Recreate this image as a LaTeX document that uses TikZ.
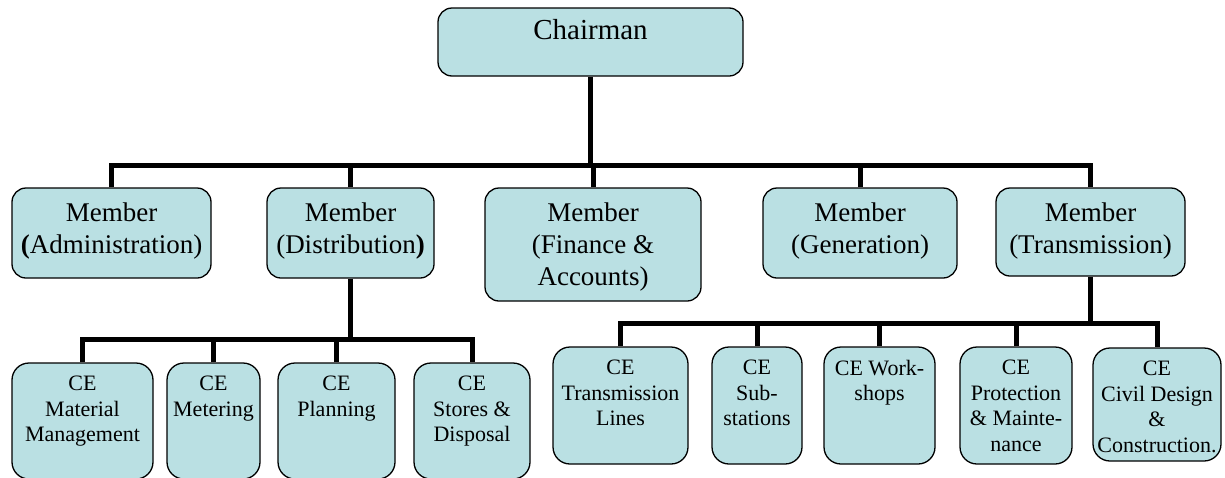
\documentclass[tikz,border=0pt]{standalone}
\usepackage{fontspec}
\setmainfont{Liberation Serif}
\definecolor{boxfill}{RGB}{186,224,227}

\begin{document}
\begin{tikzpicture}[x=1pt,y=-1pt,
    box/.style={draw=black, line width=1.3pt, fill=boxfill, rounded corners=14pt, inner sep=0pt},
    cebox/.style={box, rounded corners=17pt},
    boxtext/.style={anchor=north, inner sep=0pt, align=center},
    chtext/.style={boxtext, yshift=-11.5pt, font=\fontsize{29pt}{34pt}\selectfont},
    mtext/.style={boxtext, yshift=-15pt, font=\fontsize{27pt}{32pt}\selectfont},
    cetext/.style={boxtext, yshift=-13.5pt, font=\fontsize{22pt}{25.6pt}\selectfont},
    conn/.style={line width=5pt}
  ]
  \useasboundingbox (0,0) rectangle (1225,477);
  % Chairman
  \node[box, minimum width=305pt, minimum height=68pt, label={[chtext]north:Chairman}] (ch) at (590.5,42) {};
  %
  % Members
  \node[box, minimum width=199pt, minimum height=90pt, label={[mtext]north:{Member\\\textbf{(}Administration)}}] (adm) at (111.5,233) {};
  \node[box, minimum width=167pt, minimum height=90pt, label={[mtext]north:{Member\\(Distribution\textbf{)}}}] (dis) at (350.5,233) {};
  \node[box, minimum width=216pt, minimum height=113pt, label={[mtext]north:{Member\\(Finance \&\\Accounts)}}] (fin) at (593,244.5) {};
  \node[box, minimum width=194pt, minimum height=90pt, label={[mtext]north:{Member\\(Generation)}}] (gen) at (860,233) {};
  \node[box, minimum width=189pt, minimum height=88pt, label={[mtext]north:{Member\\(Transmission)}}] (tra) at (1090.5,232) {};
  %
  % Distribution
  \node[cebox, minimum width=141pt, minimum height=116pt, label={[cetext]north:{CE\\Material\\Management}}] (mat) at (82.5,421) {};
  \node[cebox, minimum width=93pt, minimum height=116pt, label={[cetext]north:{CE\\Metering}}] (met) at (213.5,421) {};
  \node[cebox, minimum width=117pt, minimum height=116pt, label={[cetext]north:{CE\\Planning}}] (pla) at (336.5,421) {};
  \node[cebox, minimum width=116pt, minimum height=116pt, label={[cetext]north:{CE\\Stores \&\\Disposal}}] (sto) at (472,421) {};
  %
  % Transmission
  \node[cebox, minimum width=135pt, minimum height=117pt, label={[cetext]north:{CE\\Transmission\\Lines}}] (tl) at (620.5,405.5) {};
  \node[cebox, minimum width=90pt, minimum height=117pt, label={[cetext]north:{CE\\Sub-\\stations}}] (sub) at (757,405.5) {};
  \node[cebox, minimum width=111pt, minimum height=117pt, label={[cetext]north:{CE Work-\\shops}}] (wor) at (879.5,405.5) {};
  \node[cebox, minimum width=112pt, minimum height=117pt, label={[cetext]north:{CE\\Protection\\\& Mainte-\\nance}}] (pro) at (1016,405.5) {};
  \node[cebox, minimum width=128pt, minimum height=113pt, label={[cetext]north:{CE\\Civil Design\\\&\\Construction.}}] (civ) at (1157,404.5) {};
  %
  % Connectors
  \draw[conn] (adm.north) -- ++(0,-22) coordinate (bus1) -| (tra.north);
  \draw[conn] (ch.south) -- (ch.south |- bus1);
  \foreach \m in {dis,fin,gen}
    \draw[conn] (\m.north) -- (\m.north |- bus1);
  %
  \draw[conn] (mat.north) -- ++(0,-23) coordinate (bus2) -| (sto.north);
  \draw[conn] (dis.south) -- (dis.south |- bus2);
  \foreach \c in {met,pla}
    \draw[conn] (\c.north) -- (\c.north |- bus2);
  %
  \draw[conn] (tl.north) -- ++(0,-23) coordinate (bus3) -| (civ.north);
  \draw[conn] (tra.south) -- (tra.south |- bus3);
  \foreach \c in {sub,wor,pro}
    \draw[conn] (\c.north) -- (\c.north |- bus3);
\end{tikzpicture}
\end{document}
